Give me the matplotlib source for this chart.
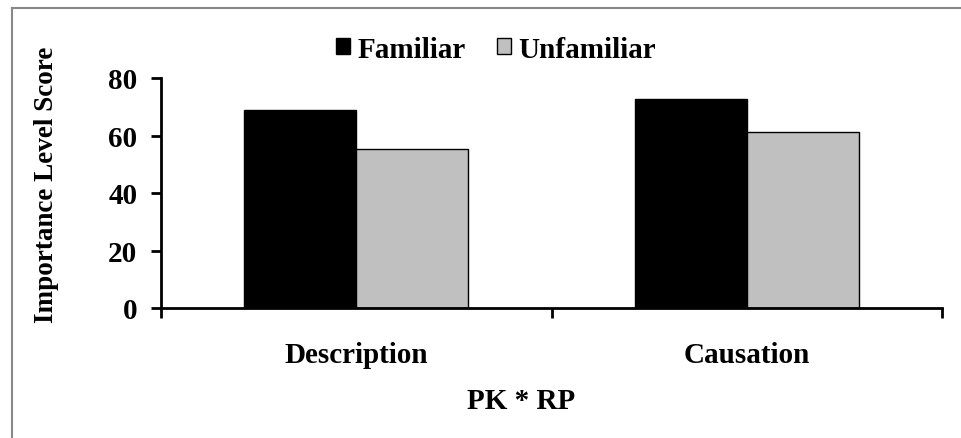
import numpy as np
import matplotlib.pyplot as plt
from matplotlib.lines import Line2D

# data
categories = ['Description', 'Causation']
familiar = [69.0, 72.8]
unfamiliar = [55.2, 61.3]
series_names = ['Familiar', 'Unfamiliar']
yticks = [0, 20, 40, 60, 80]

plt.rcParams['font.family'] = ['Liberation Serif', 'DejaVu Serif']
plt.rcParams['font.weight'] = 'bold'

W, H = 962, 439
fig = plt.figure(figsize=(W / 100, H / 100), dpi=100)
# axes box in pixels: x 161..942, y 79..309
ax = fig.add_axes([161 / W, 1 - 309 / H, (942 - 161) / W, (309 - 79) / H])

x = np.arange(len(categories))
w = 0.287
ax.bar(x - w / 2, familiar, w, color='black', edgecolor='black', linewidth=1, label=series_names[0])
ax.bar(x + w / 2, unfamiliar, w, color='#c0c0c0', edgecolor='black', linewidth=1, label=series_names[1])

ax.set_xlim(-0.5, len(categories) - 0.5)
ax.set_ylim(0, 80)
ax.set_yticks(yticks)
ax.set_yticklabels([str(v) for v in yticks], fontsize=21, fontweight='bold')

# category labels between boundary ticks
ax.set_xticks(np.arange(-0.5, len(categories)))
ax.set_xticklabels([])
ax.set_xticks(x, minor=True)
ax.set_xticklabels(categories, minor=True, fontsize=21, fontweight='bold')
ax.tick_params(axis='x', which='minor', length=0, pad=24)
ax.tick_params(axis='both', which='major', direction='out', length=7, width=2)
ax.tick_params(axis='y', pad=10)

for s in ['top', 'right']:
    ax.spines[s].set_visible(False)
for s in ['left', 'bottom']:
    ax.spines[s].set_linewidth(2)

fig.text(521 / W, 1 - 402 / H, 'PK * RP', fontsize=21, fontweight='bold',
         ha='center', va='center')
fig.text(47 / W, 1 - 185 / H, 'Importance Level Score', fontsize=19.5, fontweight='bold',
         rotation=90, ha='center', va='center')

fig.legend(loc='center', bbox_to_anchor=(496 / W, 1 - 50 / H), ncol=2, frameon=False,
           fontsize=21, handlelength=0.5, handleheight=0.5, handletextpad=0.25,
           columnspacing=1.05, borderaxespad=0, borderpad=0)

# chart-area border (only top and left edges visible in the crop)
fig.add_artist(Line2D([12 / W, 1], [1 - 8.5 / H, 1 - 8.5 / H], transform=fig.transFigure,
                      color='#888888', linewidth=1.5))
fig.add_artist(Line2D([12 / W, 12 / W], [0, 1 - 8.5 / H], transform=fig.transFigure,
                      color='#888888', linewidth=1.5))

fig.savefig('out.png', dpi=100)
